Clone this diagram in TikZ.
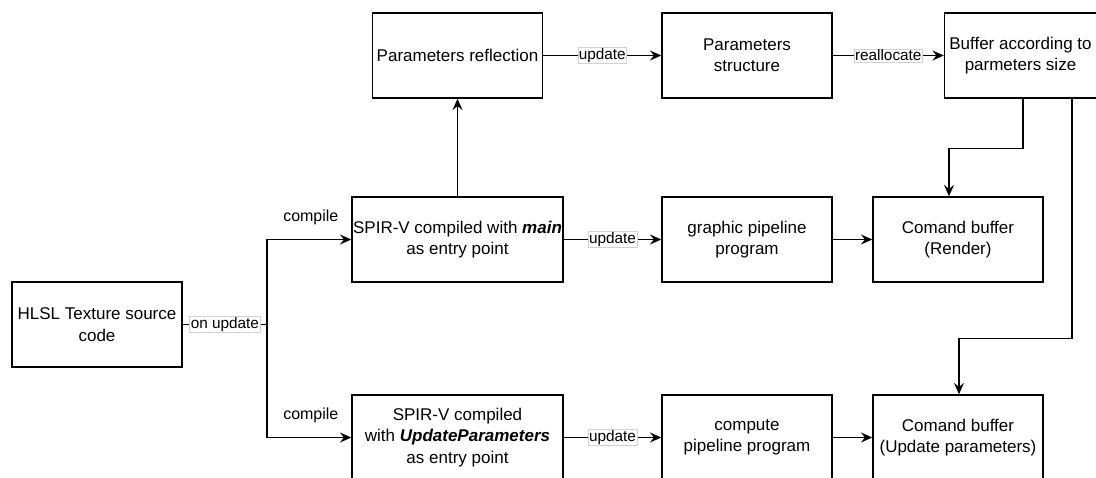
\documentclass[tikz,border=0pt]{standalone}
\usepackage{fontspec}
\setmainfont{Liberation Sans}
\usetikzlibrary{arrows.meta}

\tikzset{every picture/.style={line width=1.1pt}}
\tikzset{
  blk/.style={draw, line width=1.1pt, minimum width=127.5pt, minimum height=63.75pt, align=center, inner sep=0.75pt, font=\fontsize{12.75}{16}\selectfont},
  lbl/.style={draw=black!18, line width=0.4pt, fill=white, inner sep=0.75pt, font=\fontsize{11.5}{13}\selectfont},
  arr/.style={-{Stealth[length=8.5pt, width=7.5pt, inset=3pt]}},
}

\begin{document}
\begin{tikzpicture}[x=0.75pt,y=0.75pt,yscale=-1,xscale=1]

                  \clip (0,0) rectangle (1096,478);

                  \node (hlsl) at (97,324.5) [blk] {HLSL Texture source\\code};
                  \node (spvmain) at (457.5,239.5) [blk, minimum width=158.25pt] {SPIR-V compiled with \textbf{\textit{main}}\\as entry point};
                  \node (spvupd) at (457.5,437.5) [blk, minimum width=158.25pt] {SPIR-V compiled\\with \textbf{\textit{UpdateParameters}}\\as entry point};
                  \node (refl) at (457.5,55.5) [blk] {Parameters reflection};
                  \node (pstruct) at (747,55.5) [blk] {Parameters\\structure};
                  \node (buffer) at (1020.5,55.5) [blk, minimum width=114pt] {Buffer according to\\parmeters size};
                  \node (gfx) at (747,239.5) [blk] {graphic pipeline\\program};
                  \node (comp) at (747,437.5) [blk] {compute\\pipeline program};
                  \node (cmdrender) at (958,239.5) [blk] {Comand buffer\\(Render)};
                  \node (cmdupd) at (958,437.5) [blk] {Comand buffer\\(Update parameters)};

                  \coordinate (split) at (267,324.5);

                  \draw (hlsl.east) -- node [lbl] {on update} (split);
                  \draw [arr] (split) |- node [pos=0.76, above=10pt, inner sep=0.75pt, font=\fontsize{12}{13}\selectfont] {compile} (spvmain.west);
                  \draw [arr] (split) |- node [pos=0.76, above=10pt, inner sep=0.75pt, font=\fontsize{12}{13}\selectfont] {compile} (spvupd.west);

                  \draw [arr] (spvmain.north) -- (refl.south);
                  \draw [arr] (refl.east) -- node [lbl] {update} (pstruct.west);
                  \draw [arr] (pstruct.east) -- node [lbl] {reallocate} (buffer.west);

                  \draw [arr] ([xshift=1.875pt]buffer.south) |- ++(0,50) -| ([xshift=-6.75pt]cmdrender.north);
                  \draw [arr] ([xshift=38.6pt]buffer.south) |- ++(0,240) -| ([xshift=0.75pt]cmdupd.north);

                  \draw [arr] (spvmain.east) -- node [lbl] {update} (gfx.west);
                  \draw [arr] (gfx.east) -- (cmdrender.west);
                  \draw [arr] (spvupd.east) -- node [lbl] {update} (comp.west);
                  \draw [arr] (comp.east) -- (cmdupd.west);

              \end{tikzpicture}
\end{document}
